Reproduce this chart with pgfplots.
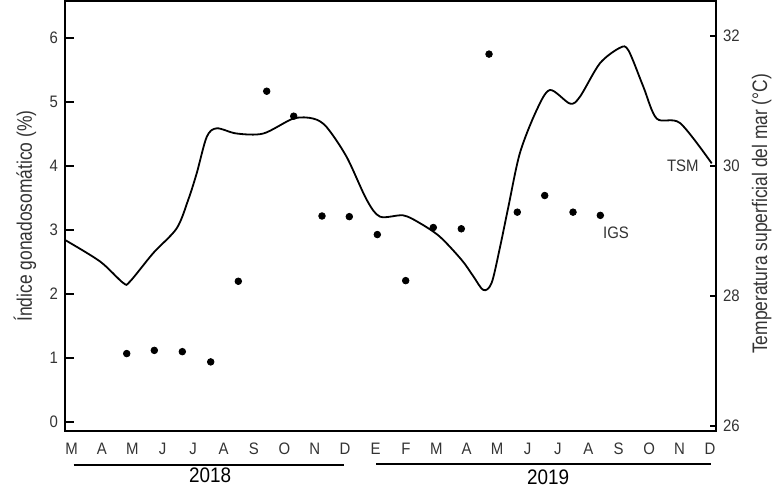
\documentclass[border=0pt]{standalone}
\usepackage{fontspec}
\setmainfont{Liberation Sans}[FakeStretch=0.9]
\newfontfamily\labelfont{Liberation Sans}[FakeStretch=0.83]
\usepackage{pgfplots}
\pgfplotsset{compat=1.18}
\definecolor{txt}{gray}{0.2}
\begin{document}
\begin{tikzpicture}[font=\fontsize{8.3}{10}\selectfont]
\begin{axis}[
  at={(0,0)}, anchor=south west,
  scale only axis, width=325.5pt, height=215pt,
  xmin=-0.214, xmax=21.2, ymin=-0.14, ymax=6.58,
  xtick={0,...,21},
  xticklabels={M,A,M,J,J,A,S,O,N,D,E,F,M,A,M,J,J,A,S,O,N,D},
  major x tick style={draw=none},
  xticklabel style={yshift=-2.5pt},
  ytick={0,...,6}, ytick pos=left, tick align=inside,
  major tick length=4.5pt,
  axis line style={line width=1pt},
  every tick/.style={line width=0.8pt, black},
  tick label style={text=txt},
  /pgf/number format/assume math mode=true,
  clip=false,
  ylabel={Índice gonadosomático (\%)},
  ylabel style={at={(axis description cs:-0.0614,0.5)}, anchor=center, font=\labelfont\fontsize{10.5}{12}\selectfont, text=txt},
]
\addplot[only marks, mark=*, mark size=1.65pt, black] coordinates {
(1.816,1.07) (2.724,1.12) (3.645,1.10) (4.579,0.94) (5.487,2.20)
(6.421,5.17) (7.309,4.78) (8.240,3.22) (9.138,3.21) (10.059,2.93)
(10.993,2.21) (11.901,3.04) (12.822,3.02) (13.734,5.75) (14.664,3.28)
(15.566,3.54) (16.497,3.28) (17.395,3.23)
};
\node[text=txt] at (axis cs:17.91,2.95) {IGS};
\draw[line width=0.6pt] (axis cs:0.07,-0.67) -- (axis cs:8.96,-0.67);
\draw[line width=0.6pt] (axis cs:10.02,-0.655) -- (axis cs:21.03,-0.655);
\node[font=\fontsize{10.5}{12}\selectfont] at (axis cs:4.56,-0.83) {2018};
\node[font=\fontsize{10.5}{12}\selectfont] at (axis cs:15.68,-0.86) {2019};
\end{axis}
\begin{axis}[
  at={(0,0)}, anchor=south west,
  scale only axis, width=325.5pt, height=215pt,
  xmin=-0.214, xmax=21.2, ymin=25.92, ymax=32.54,
  axis x line=none, axis y line*=right,
  ytick={26,28,30,32}, tick align=inside, major tick length=3pt,
  axis line style={line width=1pt},
  every tick/.style={line width=0.8pt, black},
  tick label style={text=txt},
  /pgf/number format/assume math mode=true,
  clip=false,
  ylabel={Temperatura superficial del mar (°C)},
  ylabel style={at={(axis description cs:1.070,0.505)}, anchor=center, font=\labelfont\fontsize{10.5}{12}\selectfont, text=txt},
]
\addplot[smooth, line width=0.9pt, black] coordinates {
(-0.21,28.86) (0.94,28.53) (1.70,28.20) (1.92,28.22) (2.69,28.66)
(3.46,29.04) (3.84,29.48) (4.12,29.89) (4.45,30.45) (4.78,30.58)
(5.43,30.50) (6.31,30.50) (7.30,30.73) (7.95,30.73) (8.39,30.60)
(9.05,30.14) (9.71,29.48) (10.15,29.22) (10.91,29.24) (11.46,29.12)
(12.12,28.91) (12.84,28.55) (13.22,28.30) (13.55,28.09) (13.82,28.20)
(14.10,28.76) (14.37,29.37) (14.75,30.20) (15.30,30.86) (15.74,31.17)
(16.40,30.96) (16.73,31.07) (17.38,31.58) (18.04,31.82) (18.32,31.78)
(18.81,31.22) (19.25,30.73) (20.02,30.66) (21.06,30.04)
};
\node[text=txt] at (axis cs:20.11,30.0) {TSM};
\end{axis}
\pgfresetboundingbox
\useasboundingbox (-32.5pt,-29pt) rectangle (359.5pt,215.5pt);
\end{tikzpicture}
\end{document}
